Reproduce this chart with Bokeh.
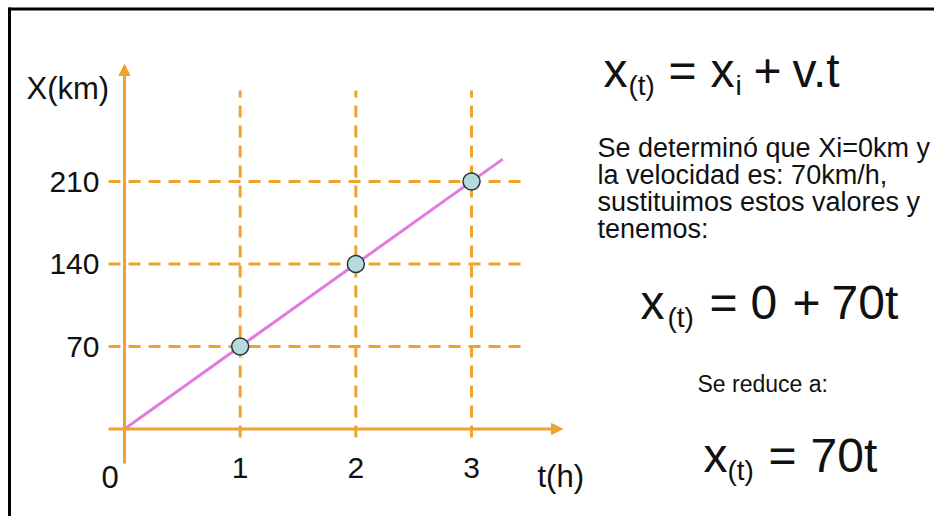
from bokeh.plotting import figure
from bokeh.models import Range1d, LinearAxis, FixedTicker, Arrow, NormalHead
from bokeh.core.properties import value
from bokeh.embed import file_html
from bokeh.resources import INLINE

# ---- data ----
tiempo_h = [1, 2, 3]            # t (h) of the marked points
posicion_km = [70, 140, 210]    # x (km) of the marked points
recta_t = [0, 3.27]             # ends of the drawn line (h)
recta_x = [0, 229]              # ends of the drawn line (km)
ticks_t = [1, 2, 3]
ticks_x = [70, 140, 210]
tick_labels_t = ["1", "2", "3"]
tick_labels_x = ["70", "140", "210"]

ORANGE = "#F0A22E"
PINK = "#E07BE0"
INK = "#111111"
FONT = "Liberation Sans"

W, H = 934, 516
# page-pixel geometry of the reference
X0, SX = 124.0, 115.67          # t = 0 at page x, px per hour
Y0, SY = 428.5, 82.5 / 70       # x = 0 at page y, px per km


def tx(px):
    return (px - X0) / SX


def ky(py):
    return (Y0 - py) / SY


p = figure(width=W, height=H, output_backend="svg", toolbar_location=None, title=None,
           x_range=Range1d(tx(0), tx(W)), y_range=Range1d(ky(H), ky(0)),
           x_axis_type=None, y_axis_type=None,
           min_border_left=0, min_border_top=0, min_border_right=0, min_border_bottom=0)
p.border_fill_color = "white"
p.background_fill_color = "white"
p.outline_line_color = None

# slide frame (top and left edges visible in the reference)
p.segment(x0=[tx(8), tx(9)], y0=[ky(8.5), ky(7)], x1=[tx(W), tx(9)], y1=[ky(8.5), ky(H)],
          line_color="black", line_width=3)

# dashed guide lines from each tick
p.segment(x0=ticks_t, y0=[ky(437)] * len(ticks_t), x1=ticks_t, y1=[ky(90)] * len(ticks_t),
          line_color=ORANGE, line_width=3, line_dash="12 8")
p.segment(x0=[tx(108)] * len(ticks_x), y0=ticks_x, x1=[tx(528)] * len(ticks_x), y1=ticks_x,
          line_color=ORANGE, line_width=3, line_dash="12 8")

# axes pinned at the origin (tick labels only)
xax = LinearAxis(fixed_location=0, ticker=FixedTicker(ticks=ticks_t),
                 major_label_overrides={t: s for t, s in zip(ticks_t, tick_labels_t)},
                 axis_line_color=None, major_tick_line_color=None, minor_tick_line_color=None,
                 major_tick_out=0, major_tick_in=0,
                 major_label_text_font_size="30px", major_label_text_font=FONT,
                 major_label_text_color=INK, major_label_standoff=29)
yax = LinearAxis(fixed_location=0, ticker=FixedTicker(ticks=ticks_x),
                 major_label_overrides={t: s for t, s in zip(ticks_x, tick_labels_x)},
                 axis_line_color=None, major_tick_line_color=None, minor_tick_line_color=None,
                 major_tick_out=0, major_tick_in=0,
                 major_label_text_font_size="30px", major_label_text_font=FONT,
                 major_label_text_color=INK, major_label_standoff=25)
p.add_layout(xax, "below")
p.add_layout(yax, "left")

# axis lines with arrow heads
p.add_layout(Arrow(end=NormalHead(size=11, fill_color=ORANGE, line_color=ORANGE, line_width=1),
                   x_start=tx(108), y_start=0, x_end=tx(562), y_end=0,
                   line_color=ORANGE, line_width=3))
p.add_layout(Arrow(end=NormalHead(size=11, fill_color=ORANGE, line_color=ORANGE, line_width=1),
                   x_start=0, y_start=ky(463), x_end=0, y_end=ky(64),
                   line_color=ORANGE, line_width=3))

# data line and points
p.line(recta_t, recta_x, line_color=PINK, line_width=3)
p.scatter(tiempo_h, posicion_km, marker="circle", size=17, fill_color="#B5DCDD",
          line_color="#263238", line_width=1.5)


def put(items, size):
    p.text(x=[tx(a) for _, a, _ in items], y=[ky(b) for _, _, b in items],
           text=[s for s, _, _ in items], text_font=value(FONT), text_font_size=size,
           text_baseline="alphabetic", text_align="left", text_color=INK)


# axis titles and origin
put([("X(km)", 26, 88), ("t(h)", 537, 476), ("0", 101, 476)], "31px")

# formulas: main characters
put([("x", 603, 70), ("=", 668, 70), ("x", 710, 70), ("+", 753, 70), ("v.t", 792, 70),
     ("x", 640, 302), ("=", 709, 302), ("0", 750, 302), ("+", 792, 302), ("70t", 831, 302),
     ("x", 703, 455), ("=", 768, 455), ("70t", 810, 455)], "48px")
# formulas: subscripts
put([("(t)", 628, 85), ("i", 735, 85), ("(t)", 667, 317), ("(t)", 727, 470)], "28px")

# explanation
put([("Se determinó que Xi=0km y", 597, 147), ("la velocidad es: 70km/h,", 597, 174),
     ("sustituimos estos valores y", 597, 201), ("tenemos:", 597, 228)], "27px")
put([("Se reduce a:", 697, 383)], "23px")

open("out.html", "w").write(file_html(p, INLINE))
